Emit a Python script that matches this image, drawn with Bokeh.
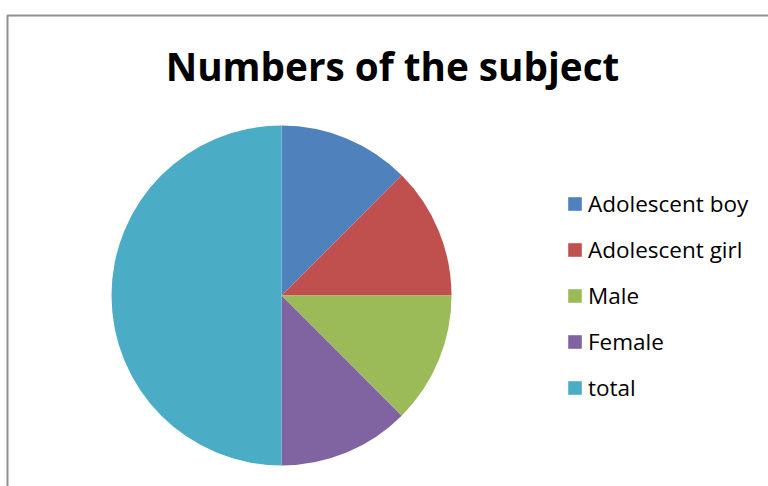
import math
from bokeh.plotting import figure
from bokeh.models import Range1d, Legend, LegendItem, ColumnDataSource
from bokeh.core.properties import value
from bokeh.embed import file_html
from bokeh.resources import INLINE

categories = ["Adolescent boy", "Adolescent girl", "Male", "Female", "total"]
counts = [25, 25, 25, 25, 100]
colors = ["#4F81BD", "#C0504D", "#9BBB59", "#8064A2", "#4BACC6"]
title_text = "Numbers of the subject"

W, H = 768, 486
p = figure(width=W, height=H, output_backend="svg", toolbar_location=None,
           x_range=Range1d(0, W), y_range=Range1d(0, H), min_border=0)
p.axis.visible = False
p.grid.visible = False
p.outline_line_color = None
p.background_fill_color = "white"
p.border_fill_color = "white"

total = sum(counts)
starts, ends = [], []
acc = 0.0
for c in counts:
    a0 = math.pi / 2 - 2 * math.pi * acc / total
    acc += c
    a1 = math.pi / 2 - 2 * math.pi * acc / total
    starts.append(a1)
    ends.append(a0)

cx, cy, r = 281, H - 295, 170
items = []
for i, cat in enumerate(categories):
    src = ColumnDataSource(dict(x=[cx], y=[cy], s=[starts[i]], e=[ends[i]]))
    g = p.wedge(x="x", y="y", radius=r, start_angle="s", end_angle="e",
                fill_color=colors[i], line_color=None, source=src)
    items.append(LegendItem(label=cat, renderers=[g]))

legend = Legend(items=items, location=(566, H - 403), border_line_color=None,
                background_fill_alpha=0, label_text_font="Open Sans",
                label_text_font_size="22.5px", glyph_width=17, glyph_height=17,
                spacing=15, label_standoff=5, padding=0, margin=0,
                label_text_color="#000000")
p.add_layout(legend, "center")

# chart border
p.line(x=[7, 7, W], y=[0, H - 15, H - 15], line_color="#909090", line_width=2)

p.text(x=[392], y=[H - 65], text=[title_text], text_font=value("Open Sans"),
       text_font_style="bold", text_font_size="38.7px", text_align="center",
       text_baseline="middle", text_color="#000000")

open("out.html", "w").write(file_html(p, INLINE))
